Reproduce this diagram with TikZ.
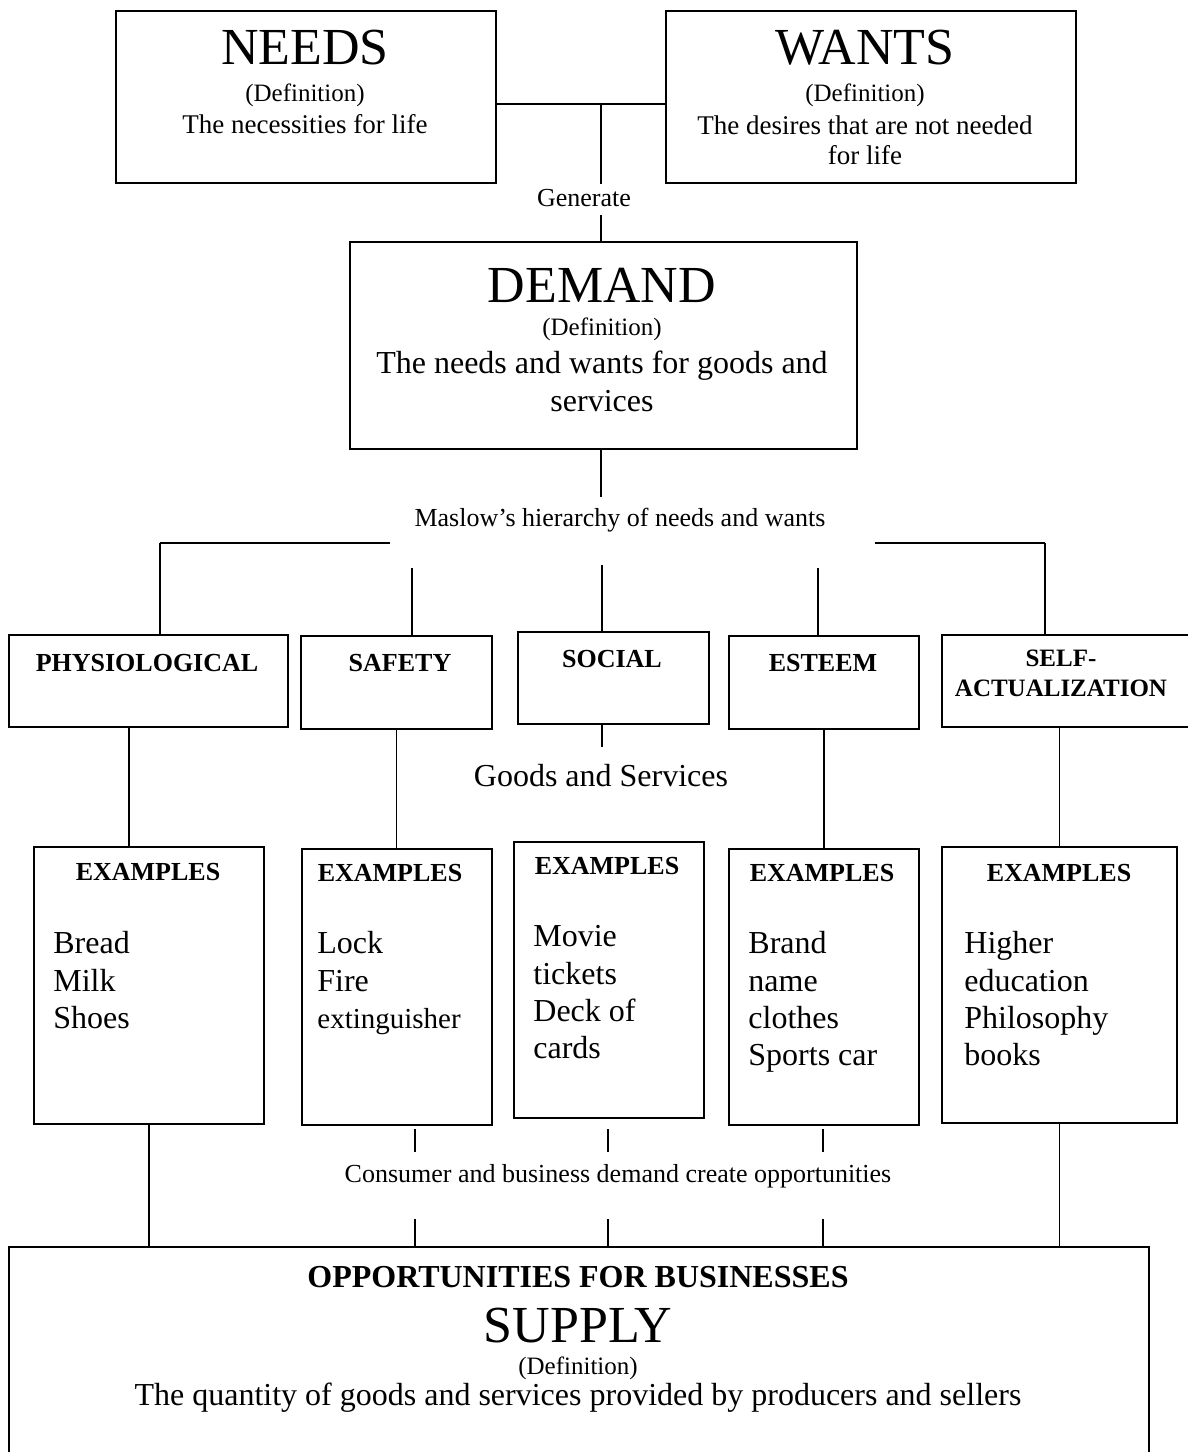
\documentclass[tikz,border=0pt]{standalone}
\usepackage{fontspec}
\setmainfont{Liberation Serif}
\usetikzlibrary{positioning}

\newcommand{\fsz}[2]{\fontsize{#1}{#2}\selectfont}

\begin{document}
\begin{tikzpicture}[
    x=0.5pt, y=-0.5pt,
    box/.style={draw, line width=1pt, inner sep=0pt, anchor=north west},
    link/.style={line width=0.6pt},
    bar/.style={line width=1.1pt},
    big/.style={font=\fsz{26}{30}},
    defn/.style={font=\fsz{12.5}{14}},
    body/.style={font=\fsz{13.5}{15}, align=center},
    lbl/.style={font=\fsz{13}{15}},
    head/.style={font=\bfseries\fsz{13}{15}, align=center},
    items/.style={font=\fsz{16}{18.7}, align=left, anchor=north west, inner sep=0pt}
  ]
  \useasboundingbox (0,0) rectangle (1188,1452);

  % top boxes
  \node[box, minimum width=190pt, minimum height=86pt] (needs) at (115,10) {};
  \node[big] (needs-t) at (305,48) {NEEDS};
  \node[defn] (needs-d) at (305,95) {(Definition)};
  \node[body] (needs-b) at (305,124) {The necessities for life};

  \node[box, minimum width=205pt, minimum height=86pt] (wants) at (665,10) {};
  \node[big] (wants-t) at (865,48) {WANTS};
  \node[defn] (wants-d) at (865,95) {(Definition)};
  \node[body] (wants-b) at (865,140) {The desires that are not needed\\for life};

  \coordinate (jn) at (601,104);
  \draw[bar] (needs.east |- jn) -- (wants.west |- jn);
  \draw[link] (jn) -- (jn |- needs.south);

  \node[lbl] (gen) at (584,198) {Generate};

  % demand
  \node[box, minimum width=253.5pt, minimum height=103.5pt] (dem) at (349,241) {};
  \node[big] (dem-t) at (602,285) {DEMAND};
  \node[defn] (dem-d) at (602,329) {(Definition)};
  \node[font=\fsz{16}{19}, align=center] (dem-b) at (602,381) {The needs and wants for goods and\\services};

  \draw[link] (dem.north -| jn) -- ++(0,-26);
  \draw[link] (dem.south -| jn) -- ++(0,47);

  \node[lbl] (maslow) at (620,520) {Maslow’s hierarchy of needs and wants};

  % levels
  \node[box, minimum width=139.5pt, minimum height=46pt] (phys) at (8,634) {};
  \node[box, minimum width=95.5pt, minimum height=46.5pt] (safe) at (300,635) {};
  \node[box, minimum width=95.5pt, minimum height=46pt] (soc) at (517,631) {};
  \node[box, minimum width=95pt, minimum height=46.5pt] (est) at (728,635) {};
  \node[box, minimum width=126pt, minimum height=46pt] (self) at (941,634) {};

  \node[head] (phys-t) at (147,663) {PHYSIOLOGICAL};
  \node[head] (safe-t) at (400,663) {SAFETY};
  \node[head] (soc-t) at (612,659) {SOCIAL};
  \node[head] (est-t) at (823,663) {ESTEEM};
  \node[font=\bfseries\fsz{12.5}{15}, align=center] (self-t) at (1061,673) {SELF-\\ACTUALIZATION};

  \coordinate (mL) at (160,543);
  \coordinate (mR) at (1045,543);
  \draw[bar] (390,543) -- (mL);
  \draw[bar] (875,543) -- (mR);
  \draw[link] (mL) -- (mL |- phys.north);
  \draw[link] (mR) -- (mR |- self.north);

  \coordinate (m2) at (412,568);
  \coordinate (m3) at (602,565);
  \coordinate (m4) at (818,568);
  \draw[link] (m2) -- (m2 |- safe.north);
  \draw[link] (m3) -- (m3 |- soc.north);
  \draw[link] (m4) -- (m4 |- est.north);

  \node[font=\fsz{16}{18}] (goods) at (601,776) {Goods and Services};

  % examples
  \node[box, minimum width=115pt, minimum height=138.5pt] (ex1) at (33,846) {};
  \node[box, minimum width=95pt, minimum height=138pt] (ex2) at (301,848) {};
  \node[box, minimum width=95pt, minimum height=138pt] (ex3) at (513,841) {};
  \node[box, minimum width=95pt, minimum height=138pt] (ex4) at (728,848) {};
  \node[box, minimum width=117.5pt, minimum height=138pt] (ex5) at (941,846) {};

  \node[head] (ex1-t) at (148,872) {EXAMPLES};
  \node[head] (ex2-t) at (390,873) {EXAMPLES};
  \node[head] (ex3-t) at (607,866) {EXAMPLES};
  \node[head] (ex4-t) at (822,873) {EXAMPLES};
  \node[head] (ex5-t) at (1059,873) {EXAMPLES};

  \node[items] (ex1-l) at (53,931) {Bread\\Milk\\Shoes};
  \node[items] (ex2-l) at (317,931) {Lock\\Fire\\{\fsz{14.5}{18.7}extinguisher}};
  \node[items] (ex3-l) at (533,925) {Movie\\tickets\\Deck of\\cards};
  \node[items] (ex4-l) at (748,931) {Brand\\name\\clothes\\Sports car};
  \node[items] (ex5-l) at (964,931) {Higher\\education\\Philosophy\\books};

  \coordinate (p1) at (129,726);
  \draw[link] (p1) -- (p1 |- ex1.north);
  \draw[link] (safe.south) -- (safe.south |- ex2.north);
  \coordinate (s1) at (602,723);
  \draw[link] (s1) -- ++(0,24);
  \draw[link] (est.south) -- (est.south |- ex4.north);
  \draw[link] (self.south -| ex5.north) -- (ex5.north);

  % supply
  \node[box, minimum width=570pt, minimum height=107pt] (sup) at (8,1246) {};
  \node[font=\bfseries\fsz{16}{18}] (sup-h) at (578,1277) {OPPORTUNITIES FOR BUSINESSES};
  \node[big] (sup-t) at (578,1326) {SUPPLY};
  \node[defn] (sup-d) at (578,1368) {(Definition)};
  \node[font=\fsz{16}{18}] (sup-b) at (578,1398) {The quantity of goods and services provided by producers and sellers};

  \node[lbl] (opp) at (618,1176) {Consumer and business demand create opportunities};

  \draw[link] (ex1.south) -- (ex1.south |- sup.north);
  \draw[link] (ex5.south) -- (ex5.south |- sup.north);
  \foreach \n/\x in {2/415,3/608,4/823} {
      \coordinate (up\n) at (\x,1129);
      \coordinate (dn\n) at (\x,1219);
      \draw[link] (up\n) -- ++(0,23);
      \draw[link] (dn\n) -- (dn\n |- sup.north);
    }

\end{tikzpicture}
\end{document}
